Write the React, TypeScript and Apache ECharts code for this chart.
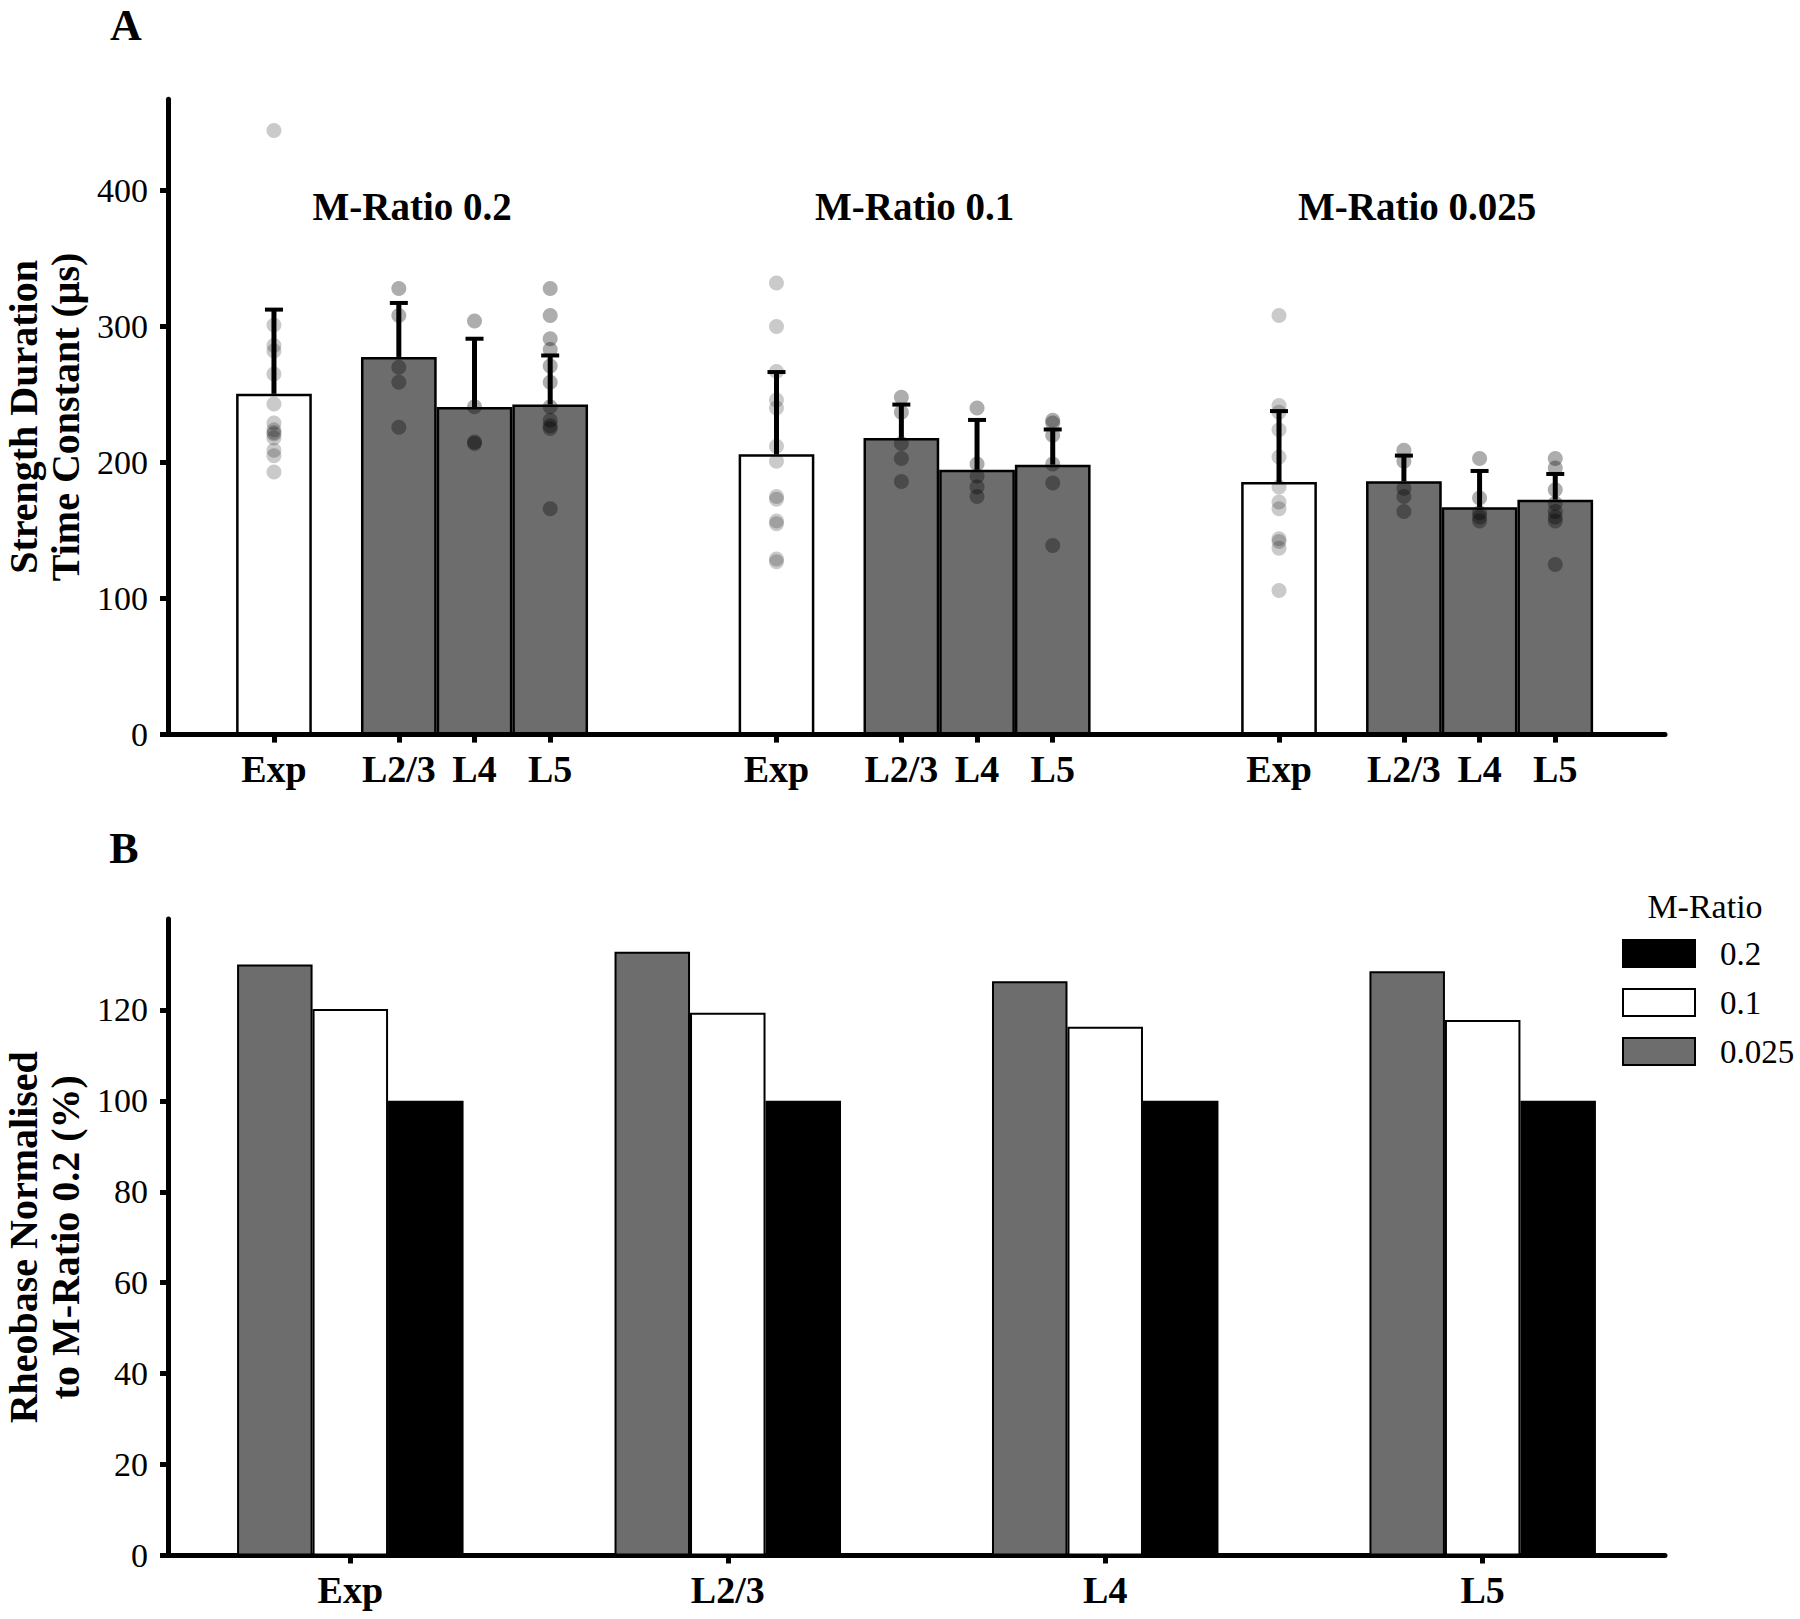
import React, { useEffect, useRef } from "react";
import * as echarts from "echarts";

// ---------------- DATA ----------------
// Panel A: strength-duration time constant (µs)
const groupNames = ["M-Ratio 0.2", "M-Ratio 0.1", "M-Ratio 0.025"];
const conditions = ["Exp", "L2/3", "L4", "L5"];

const tauMean_02 = [250.5, 277.6, 240.8, 242.6];
const tauMean_01 = [206.0, 218.1, 194.7, 198.4];
const tauMean_0025 = [185.7, 186.3, 167.1, 172.7];

const tauUpper_02 = [312.4, 317.3, 291.0, 278.7];
const tauUpper_01 = [266.5, 242.6, 231.3, 224.3];
const tauUpper_0025 = [237.8, 205.1, 193.8, 191.6];

// individual points (Exp, L2/3, L4, L5)
const pts_02_Exp = [444, 301, 286, 282, 265, 243, 229, 224, 222, 221, 218, 209, 205, 193];
const pts_02_L23 = [328, 308, 270, 259, 226];
const pts_02_L4 = [304, 241, 215, 214];
const pts_02_L5 = [328, 308, 291, 283, 271, 259, 241, 231, 227, 225, 166];

const pts_01_Exp = [332, 300, 267, 246, 240, 212, 201, 175, 173, 157, 155, 129, 127];
const pts_01_L23 = [248, 237, 214, 203, 186];
const pts_01_L4 = [240, 199, 190, 182, 175];
const pts_01_L5 = [231, 229, 220, 199, 185, 139];

const pts_0025_Exp = [308, 242, 237, 224, 204, 182, 171, 166, 144, 142, 137, 106];
const pts_0025_L23 = [209, 201, 181, 175, 164];
const pts_0025_L4 = [203, 174, 163, 160, 157];
const pts_0025_L5 = [203, 196, 180, 170, 164, 160, 157, 125];

const tauTicks = [0, 100, 200, 300, 400];

// Panel B: rheobase normalised to M-Ratio 0.2 (%)
const layers = ["Exp", "L2/3", "L4", "L5"];
const mRatioLevels = ["0.2", "0.1", "0.025"];
const rheo_02 = [100, 100, 100, 100];
const rheo_01 = [120.2, 119.4, 116.3, 117.8];
const rheo_0025 = [130.0, 132.8, 126.3, 128.5];
const rheoTicks = [0, 20, 40, 60, 80, 100, 120];

// ---------------- LAYOUT ----------------
const FONT = "Liberation Serif";
const slotOffsets = [1.4, 3.05, 4.05, 5.05];
const groupPitch = 6.64;
const axisMaxA = 19.78;
const titleLevelA = 388;

const meansA = [tauMean_02, tauMean_01, tauMean_0025];
const uppersA = [tauUpper_02, tauUpper_01, tauUpper_0025];
const ptsA = [
  [pts_02_Exp, pts_02_L23, pts_02_L4, pts_02_L5],
  [pts_01_Exp, pts_01_L23, pts_01_L4, pts_01_L5],
  [pts_0025_Exp, pts_0025_L23, pts_0025_L4, pts_0025_L5],
];

const xPosA = (g: number, c: number) => g * groupPitch + slotOffsets[c];
const tickPosA: number[] = [];
const tickLabA: string[] = [];
groupNames.forEach((_, g) =>
  conditions.forEach((c, ci) => {
    tickPosA.push(xPosA(g, ci));
    tickLabA.push(c);
  })
);

const levelOffsetsB = [0.2, 0, -0.2];
const levelColors = ["#000000", "#ffffff", "#6d6d6d"];
const rheoSeries = [rheo_02, rheo_01, rheo_0025];

const GRAY = "#6d6d6d";

function buildOption(): any {
  const barData: any[] = [];
  const errData: any[] = [];
  const expDots: any[] = [];
  const layerDots: any[] = [];
  const titleData: any[] = [];
  groupNames.forEach((name, g) => {
    conditions.forEach((_, c) => {
      const x = xPosA(g, c);
      barData.push({
        value: [x, meansA[g][c]],
        itemStyle: { color: c === 0 ? "#ffffff" : GRAY },
      });
      errData.push([x, meansA[g][c], uppersA[g][c]]);
      ptsA[g][c].forEach((v) => (c === 0 ? expDots : layerDots).push([x, v]));
    });
    titleData.push({ name, value: [(xPosA(g, 0) + xPosA(g, 3)) / 2, titleLevelA] });
  });

  const axisLineStyle = { color: "#000", width: 5 };
  const tickStyle = { color: "#000", width: 5 };

  const seriesB = mRatioLevels.map((lvl, k) => ({
    name: lvl,
    type: "bar",
    xAxisIndex: 1,
    yAxisIndex: 1,
    barWidth: 75.5,
    barGap: "-100%",
    itemStyle: {
      color: levelColors[k],
      borderColor: "#000",
      borderWidth: 2,
    },
    data: layers.map((_, i) => [i + 1 + levelOffsetsB[k], rheoSeries[k][i]]),
    z: 2,
  }));

  return {
    animation: false,
    backgroundColor: "#ffffff",
    textStyle: { fontFamily: FONT },
    grid: [
      { left: 168, width: 1497, top: 99.3, height: 635.3, outerBoundsMode: "none" },
      { left: 168, width: 1497, top: 919, height: 636.5, outerBoundsMode: "none" },
    ],
    xAxis: [
      {
        type: "value",
        gridIndex: 0,
        min: 0,
        max: axisMaxA,
        splitLine: { show: false },
        axisLine: { show: true, lineStyle: axisLineStyle },
        axisTick: { show: true, customValues: tickPosA, length: 8, lineStyle: tickStyle },
        axisLabel: {
          show: true,
          customValues: tickPosA,
          formatter: (v: number) => {
            const i = tickPosA.findIndex((p) => Math.abs(p - v) < 0.01);
            return i >= 0 ? tickLabA[i] : "";
          },
          fontFamily: FONT,
          fontWeight: "bold",
          fontSize: 38,
          color: "#000",
          margin: 15,
        },
      },
      {
        type: "value",
        gridIndex: 1,
        min: 0.517,
        max: 4.483,
        splitLine: { show: false },
        axisLine: { show: true, lineStyle: axisLineStyle },
        axisTick: { show: true, customValues: [1, 2, 3, 4], length: 8, lineStyle: tickStyle },
        axisLabel: {
          show: true,
          customValues: [1, 2, 3, 4],
          formatter: (v: number) => layers[Math.round(v) - 1] ?? "",
          fontFamily: FONT,
          fontWeight: "bold",
          fontSize: 38,
          color: "#000",
          margin: 15,
        },
      },
    ],
    yAxis: [
      {
        type: "value",
        gridIndex: 0,
        min: 0,
        max: 467,
        splitLine: { show: false },
        axisLine: { show: true, lineStyle: axisLineStyle },
        axisTick: { show: true, customValues: tauTicks, length: 8, lineStyle: tickStyle },
        axisLabel: {
          show: true,
          customValues: tauTicks,
          fontFamily: FONT,
          fontSize: 34,
          color: "#000",
          margin: 20,
        },
        name: "Strength Duration\nTime Constant (μs)",
        nameLocation: "middle",
        nameGap: 82,
        nameTextStyle: {
          fontFamily: FONT,
          fontWeight: "bold",
          fontSize: 40,
          lineHeight: 42,
          color: "#000",
        },
      },
      {
        type: "value",
        gridIndex: 1,
        min: 0,
        max: 140,
        splitLine: { show: false },
        axisLine: { show: true, lineStyle: axisLineStyle },
        axisTick: { show: true, customValues: rheoTicks, length: 8, lineStyle: tickStyle },
        axisLabel: {
          show: true,
          customValues: rheoTicks,
          fontFamily: FONT,
          fontSize: 34,
          color: "#000",
          margin: 20,
        },
        name: "Rheobase Normalised\nto M-Ratio 0.2 (%)",
        nameLocation: "middle",
        nameGap: 82,
        nameTextStyle: {
          fontFamily: FONT,
          fontWeight: "bold",
          fontSize: 40,
          lineHeight: 42,
          color: "#000",
        },
      },
    ],
    legend: {
      data: mRatioLevels,
      orient: "vertical",
      left: 1617,
      top: 932,
      itemWidth: 72,
      itemHeight: 27,
      itemGap: 16,
      icon: "rect",
      itemStyle: { borderColor: "#000", borderWidth: 2 },
      textStyle: {
        fontFamily: FONT,
        fontSize: 33,
        color: "#000",
        padding: [0, 0, 0, 20],
      },
      selectedMode: false,
    },
    graphic: [
      {
        type: "text",
        x: 126,
        y: 25,
        style: {
          text: "A",
          font: `bold 44px "${FONT}"`,
          fill: "#000",
          textAlign: "center",
          textVerticalAlign: "middle",
        },
      },
      {
        type: "text",
        x: 124,
        y: 848,
        style: {
          text: "B",
          font: `bold 44px "${FONT}"`,
          fill: "#000",
          textAlign: "center",
          textVerticalAlign: "middle",
        },
      },
      {
        type: "text",
        x: 1705,
        y: 906,
        style: {
          text: "M-Ratio",
          font: `34px "${FONT}"`,
          fill: "#000",
          textAlign: "center",
          textVerticalAlign: "middle",
        },
      },
    ],
    series: [
      {
        name: "tauBars",
        type: "bar",
        xAxisIndex: 0,
        yAxisIndex: 0,
        barWidth: 75.7,
        itemStyle: { borderColor: "#000", borderWidth: 2.5 },
        data: barData,
        z: 2,
      },
      {
        name: "expPoints",
        type: "scatter",
        xAxisIndex: 0,
        yAxisIndex: 0,
        symbolSize: 15,
        itemStyle: { color: "rgba(0,0,0,0.26)" },
        data: expDots,
        z: 3,
      },
      {
        name: "layerPoints",
        type: "scatter",
        xAxisIndex: 0,
        yAxisIndex: 0,
        symbolSize: 15,
        itemStyle: { color: "rgba(0,0,0,0.4)" },
        data: layerDots,
        z: 3,
      },
      {
        name: "errorBars",
        type: "custom",
        xAxisIndex: 0,
        yAxisIndex: 0,
        encode: { x: 0, y: [1, 2] },
        data: errData,
        z: 4,
        renderItem: (params: any, api: any) => {
          const x = api.value(0);
          const lo = api.coord([x, api.value(1)]);
          const hi = api.coord([x, api.value(2)]);
          return {
            type: "group",
            children: [
              {
                type: "line",
                shape: { x1: lo[0], y1: lo[1], x2: hi[0], y2: hi[1] },
                style: { stroke: "#000", lineWidth: 5 },
              },
              {
                type: "line",
                shape: { x1: hi[0] - 9, y1: hi[1], x2: hi[0] + 9, y2: hi[1] },
                style: { stroke: "#000", lineWidth: 4 },
              },
            ],
          };
        },
      },
      {
        name: "groupTitles",
        type: "custom",
        xAxisIndex: 0,
        yAxisIndex: 0,
        data: titleData,
        z: 5,
        renderItem: (params: any, api: any) => {
          const p = api.coord([api.value(0), api.value(1)]);
          return {
            type: "text",
            x: p[0],
            y: p[1],
            style: {
              text: groupNames[params.dataIndex],
              font: `bold 39px "${FONT}"`,
              fill: "#000",
              textAlign: "center",
              textVerticalAlign: "middle",
            },
          };
        },
      },
      ...seriesB,
    ],
  };
}

export default function App() {
  const ref = useRef<HTMLDivElement>(null);
  useEffect(() => {
    if (!ref.current) return;
    const chart = echarts.init(ref.current, undefined, { renderer: "svg" });
    chart.setOption(buildOption());
    return () => chart.dispose();
  }, []);
  return (
    <div
      ref={ref}
      style={{ position: "absolute", left: 0, top: 0, width: 1800, height: 1619, background: "#fff" }}
    />
  );
}
